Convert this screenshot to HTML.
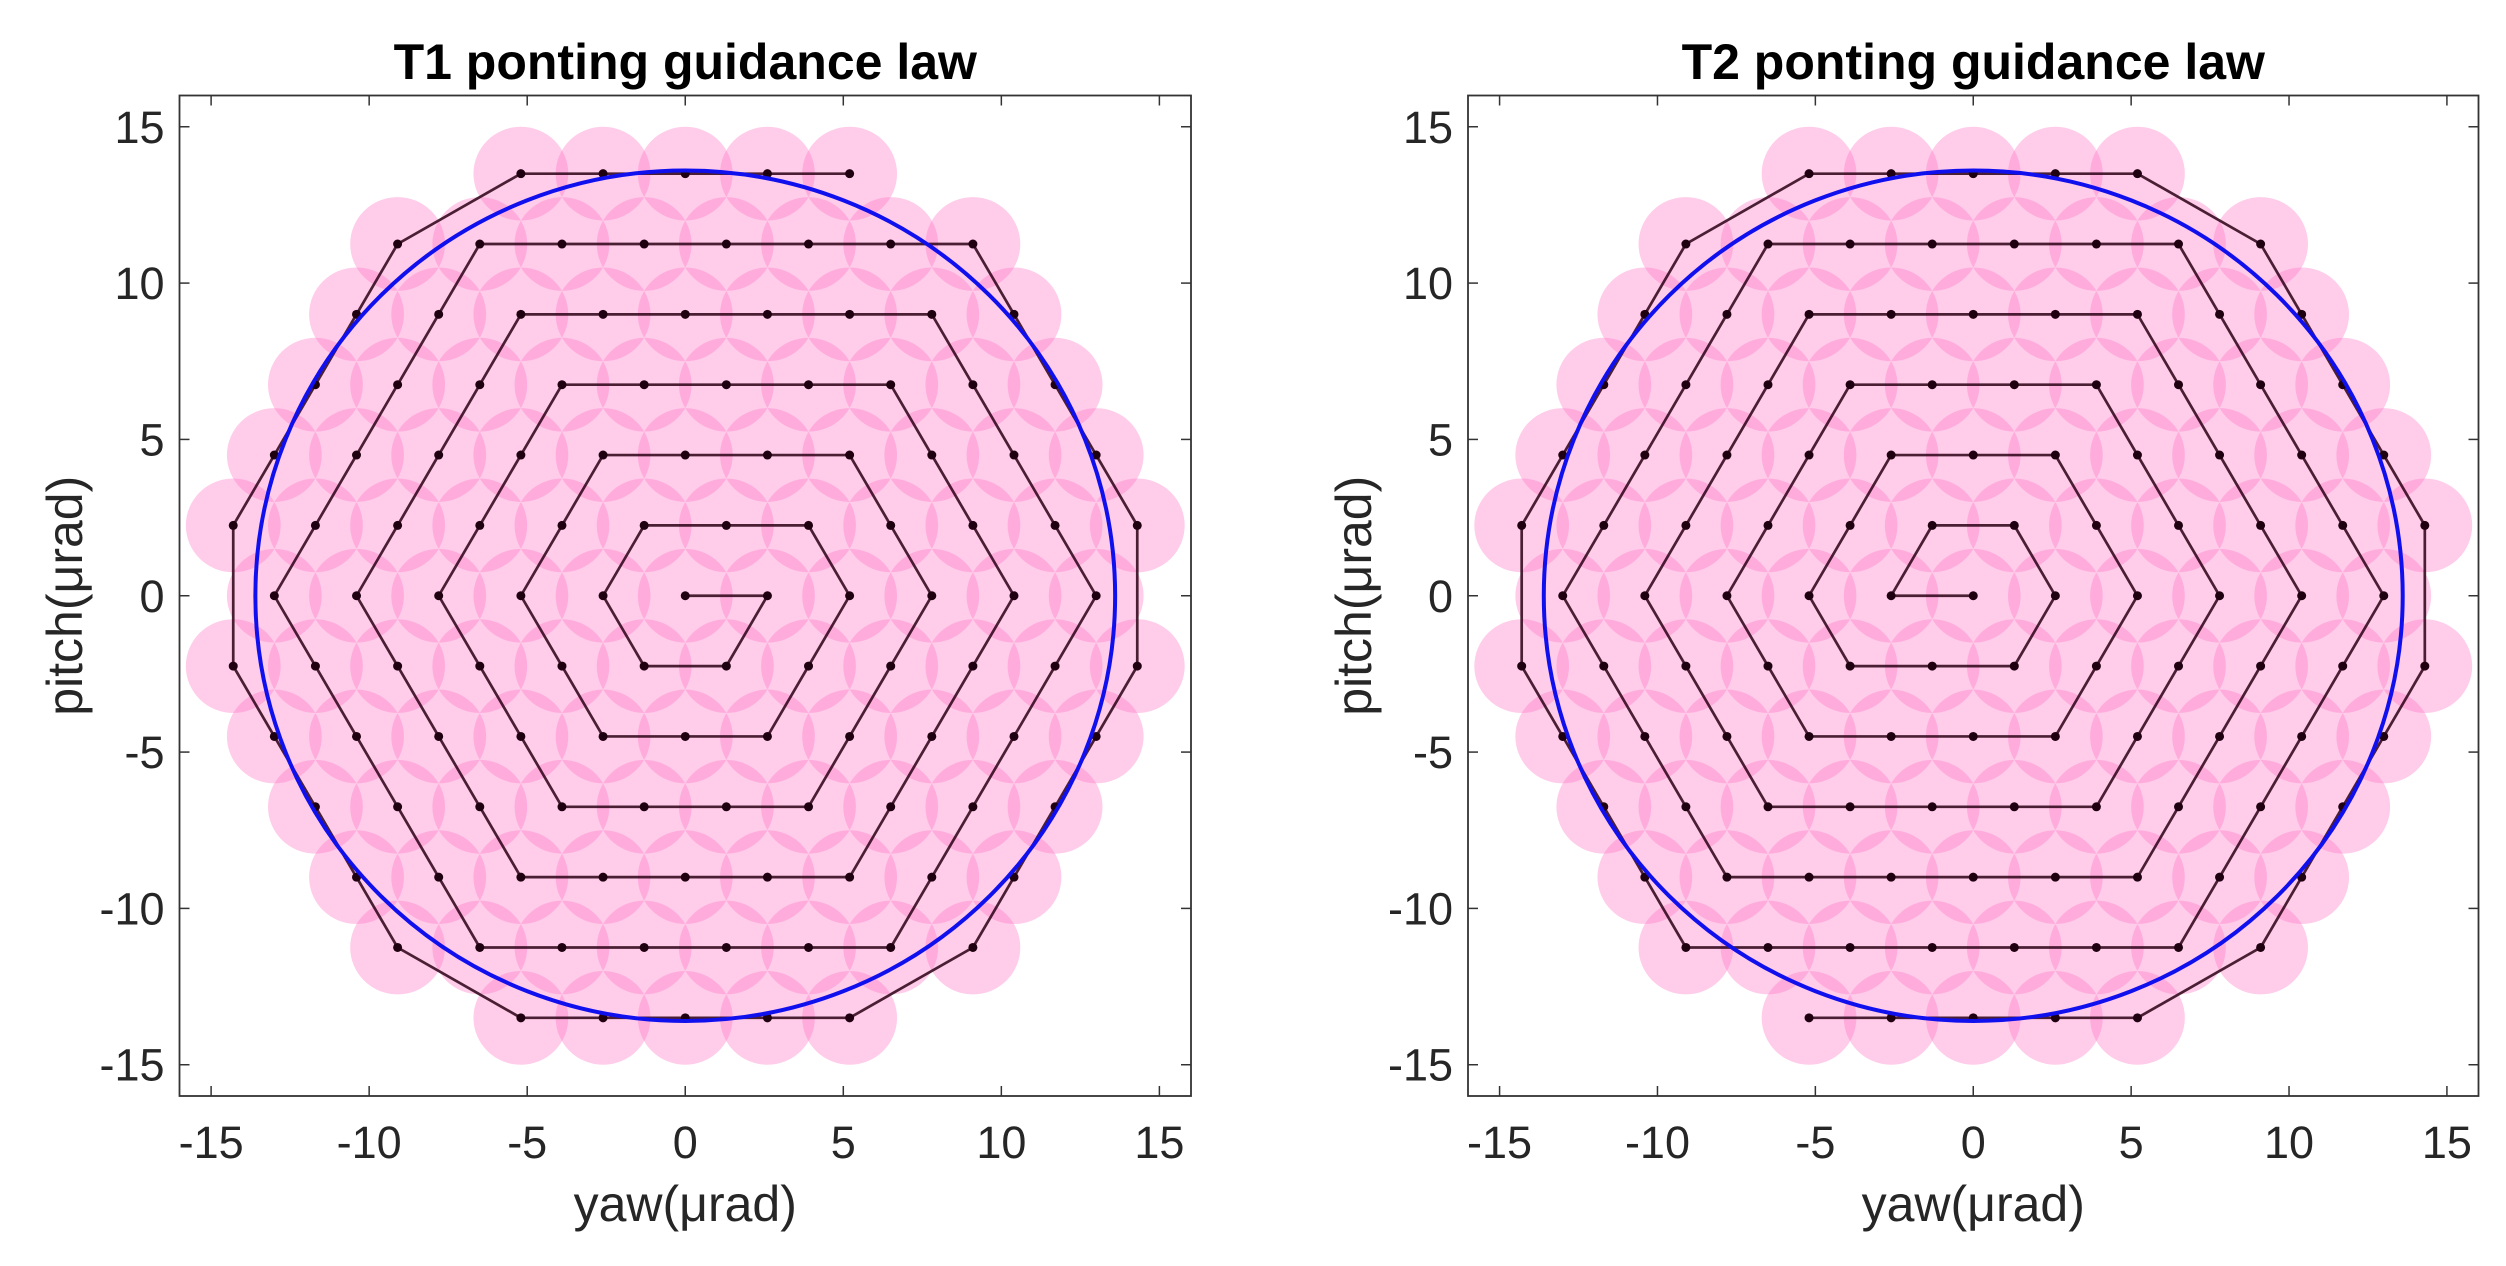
<!DOCTYPE html>
<html><head><meta charset="utf-8"><style>
body{margin:0;background:#fff}
svg{display:block;font-family:"Liberation Sans",Arial,sans-serif}
</style></head><body>
<svg id="fig" width="2506" height="1266" viewBox="0 0 2506 1266" xmlns="http://www.w3.org/2000/svg"></svg>
<script>
// lattice units: yaw = a*stepX, pitch = b*stepY
const stepX = 1.3;
const stepY = 2.25;
const spotRadius = 1.5;
const circleRadius = 13.6;
const tickValues = [-15, -10, -5, 0, 5, 10, 15];
const tickLabels = ["-15", "-10", "-5", "0", "5", "10", "15"];
const t1CornersA = [0,2,1,-1,-2,-1,3,4,2,-2,-4,-2,4,6,3,-3,-6,-3,5,8,4,-4,-8,-4,6,10,5,-5,-10,-5,7,11,11,7,4,-4,-7,-11,-11,-7,-4,4];
const t1CornersB = [0,0,-1,-1,0,1,1,0,-2,-2,0,2,2,0,-3,-3,0,3,3,0,-4,-4,0,4,4,0,-5,-5,0,5,5,1,-1,-5,-6,-6,-5,-1,1,5,6,6];
const t2CornersA = [0,-2,-1,1,2,1,-3,-4,-2,2,4,2,-4,-6,-3,3,6,3,-5,-8,-4,4,8,4,-6,-10,-5,5,10,5,-7,-11,-11,-7,-4,4,7,11,11,7,4,-4];
const t2CornersB = [0,0,1,1,0,-1,-1,0,2,2,0,-2,-2,0,3,3,0,-3,-3,0,4,4,0,-4,-4,0,5,5,0,-5,-5,-1,1,5,6,6,5,1,-1,-5,-6,-6];

const NS = "http://www.w3.org/2000/svg";
const svg = document.getElementById('fig');
function mk(tag, attrs, parent){const e=document.createElementNS(NS,tag);for(const k in attrs)e.setAttribute(k,attrs[k]);(parent||svg).appendChild(e);return e;}

function expand(A,B){
  const pts=[[A[0],B[0]]];
  for(let i=1;i<A.length;i++){
    const da=A[i]-A[i-1], db=B[i]-B[i-1];
    let n=1;
    if(db===0) n=Math.abs(da)/2; else if(Math.abs(da)===Math.abs(db)) n=Math.abs(db);
    for(let k=1;k<=n;k++) pts.push([A[i-1]+da*k/n, B[i-1]+db*k/n]);
  }
  return pts;
}

function panel(cfg){
  const {left,right,top,bottom,title,A,B,id,xc}=cfg;
  const g=mk('g',{});
  
  
  const sx=v=>left+(v+16)/32*(right-left);
  const sy=v=>bottom-(v+16)/32*(bottom-top);
  const kx=(right-left)/32, ky=(bottom-top)/32;
  const pts=expand(A,B);
  const sg=mk('g',{},g);
  
  
  pts.forEach(p=>{
    const c=mk('ellipse',{cx:sx(p[0]*stepX),cy:sy(p[1]*stepY),rx:spotRadius*kx,ry:spotRadius*ky,fill:'rgb(255,120,200)','fill-opacity':0.38},sg);
    
    
  });
  const path=mk('polyline',{points:pts.map(p=>sx(p[0]*stepX)+','+sy(p[1]*stepY)).join(' '),fill:'none',stroke:'#2a0014','stroke-opacity':0.85,'stroke-width':2.7},g);
  
  
  pts.forEach(p=>{
    const d=mk('circle',{cx:sx(p[0]*stepX),cy:sy(p[1]*stepY),r:4.5,fill:'#1e0010'},g);
    
    
  });
  const bc=mk('ellipse',{cx:sx(0),cy:sy(0),rx:circleRadius*kx,ry:circleRadius*ky,fill:'none',stroke:'#1010ee','stroke-width':4},g);
  
  
  const box=mk('rect',{x:left,y:top,width:right-left,height:bottom-top,fill:'none',stroke:'#333','stroke-width':1.8},g);
  
  
  tickValues.forEach((v,i)=>{
    const x=sx(v), y=sy(v);
    mk('line',{x1:x,y1:bottom,x2:x,y2:bottom-10,stroke:'#333','stroke-width':1.5},g);
    mk('line',{x1:x,y1:top,x2:x,y2:top+10,stroke:'#333','stroke-width':1.5},g);
    mk('line',{x1:left,y1:y,x2:left+10,y2:y,stroke:'#333','stroke-width':1.5},g);
    mk('line',{x1:right,y1:y,x2:right-10,y2:y,stroke:'#333','stroke-width':1.5},g);
    const tx=mk('text',{x:x,y:bottom+62,'text-anchor':'middle','font-size':45,fill:'#262626'},g);
    tx.textContent=tickLabels[i];
    
    
    const ty=mk('text',{x:left-15,y:y+16,'text-anchor':'end','font-size':45,fill:'#262626'},g);
    ty.textContent=tickLabels[i];
    
    
  });
  const t=mk('text',{x:(left+right)/2,y:79,'text-anchor':'middle','font-size':50,'font-weight':'bold',fill:'#000'},g);
  t.textContent=title;
  
  
  const xl=mk('text',{x:(left+right)/2,y:1221,'text-anchor':'middle','font-size':50,fill:'#262626'},g);
  xl.textContent='yaw(μrad)';
  
  
  const yl=mk('text',{x:0,y:0,'text-anchor':'middle','font-size':50,fill:'#262626',transform:'translate('+(xc+17)+','+((top+bottom)/2)+') rotate(-90)'},g);
  yl.textContent='pitch(μrad)';
  
  
}
panel({id:'t1',left:179.5,right:1191,top:95.5,bottom:1096,title:'T1 ponting guidance law',A:t1CornersA,B:t1CornersB,xc:65});
panel({id:'t2',left:1468,right:2478.5,top:95.5,bottom:1096,title:'T2 ponting guidance law',A:t2CornersA,B:t2CornersB,xc:1354});
</script>
</body></html>
